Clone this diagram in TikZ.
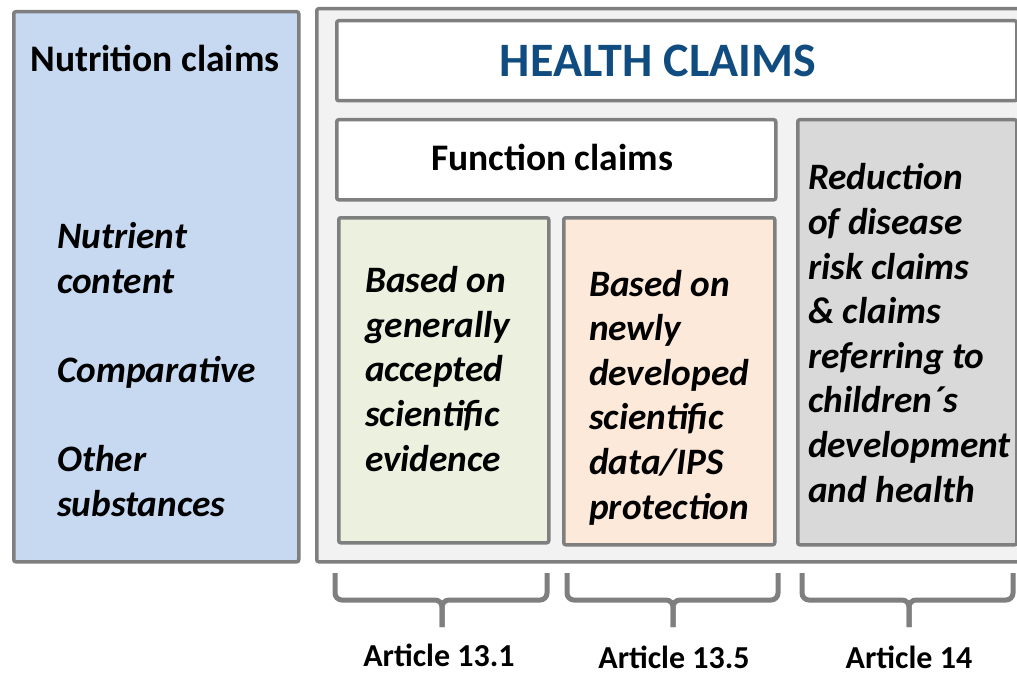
\documentclass[tikz,border=0pt]{standalone}
\usepackage{fontspec}
\setmainfont{Carlito}
\usetikzlibrary{positioning}

\definecolor{edgegray}{HTML}{7F7F7F}
\definecolor{nutriblue}{HTML}{C6D9F1}
\definecolor{panelgray}{HTML}{F2F2F2}
\definecolor{genegreen}{HTML}{EBF1DE}
\definecolor{newpeach}{HTML}{FDE9D9}
\definecolor{riskgray}{HTML}{D9D9D9}
\definecolor{titleblue}{HTML}{104C80}

\tikzset{
  box/.style={draw=edgegray, line width=3.5pt, rounded corners=2pt, anchor=north west, inner sep=0pt},
  claim/.style={font=\bfseries\itshape\fontsize{37.3}{44.6}\selectfont, align=left, anchor=base west, inner sep=0pt},
  head/.style={font=\bfseries\fontsize{37.5}{44.6}\selectfont, anchor=base, inner sep=0pt},
  article/.style={font=\bfseries\fontsize{32}{38}\selectfont, anchor=base, inner sep=0pt},
  brace/.style={draw=edgegray, line width=5pt, rounded corners=7pt}
}

\begin{document}
\begin{tikzpicture}[x=1pt, y=-1pt]
  \useasboundingbox (0,0) rectangle (1017,674);
  \fill[white] (0,0) rectangle (1017,674);
  \clip (0,0) rectangle (1017,674);

  % nutrition side (multi-line nodes sit on their last baseline)
  \node[box, fill=nutriblue, minimum width=285pt, minimum height=550pt](nutri) at (12,10){};
  \node[head](nutrititle) at (155,72){Nutrition claims};
  \node[claim](nutrilist) at (57,516){Nutrient\\content\\[44.6pt]Comparative\\[44.6pt]Other\\substances};

  % health side
  \node[box, fill=panelgray, minimum width=720pt, minimum height=553pt](health) at (315,7){};
  \node[box, fill=white, minimum width=680pt, minimum height=80pt](healthtop) at (335,19){};
  \node[head, font=\bfseries\fontsize{48}{52}\selectfont, text=titleblue](healthtitle) at (658,77){HEALTH CLAIMS};

  \node[box, fill=white, minimum width=439pt, minimum height=80pt](func) at (335,118){};
  \node[head](functitle) at (552,170){Function claims};

  \node[box, fill=genegreen, minimum width=210pt, minimum height=325pt](gene) at (337,216){};
  \node[claim](genetext) at (365,471){Based on\\generally\\accepted\\scientific\\evidence};

  \node[box, fill=newpeach, minimum width=211pt, minimum height=327pt](newdata) at (562,216){};
  \node[claim](newtext) at (589,519){Based on\\newly\\developed\\scientific\\data/IPS\\protection};

  \node[box, fill=riskgray, minimum width=219pt, minimum height=425pt](risk) at (796,118){};
  \node[claim](risktext) at (808,502){Reduction\\of disease\\risk claims\\\& claims\\referring to\\children´s\\development\\and health};

  % braces and articles
  \foreach \l/\c/\r in {335/442/547, 567/673/778, 802/909/1013}{
    \draw[brace] (\l,573) -- (\l,600) -- (\c,600) -- (\c,627);
    \draw[brace] (\r,573) -- (\r,600) -- (\c,600) -- (\c,627);
  }
  \node[article](art131) at (439,666){Article 13.1};
  \node[article](art135) at (674,668){Article 13.5};
  \node[article](art14) at (909,668){Article 14};
\end{tikzpicture}
\end{document}
